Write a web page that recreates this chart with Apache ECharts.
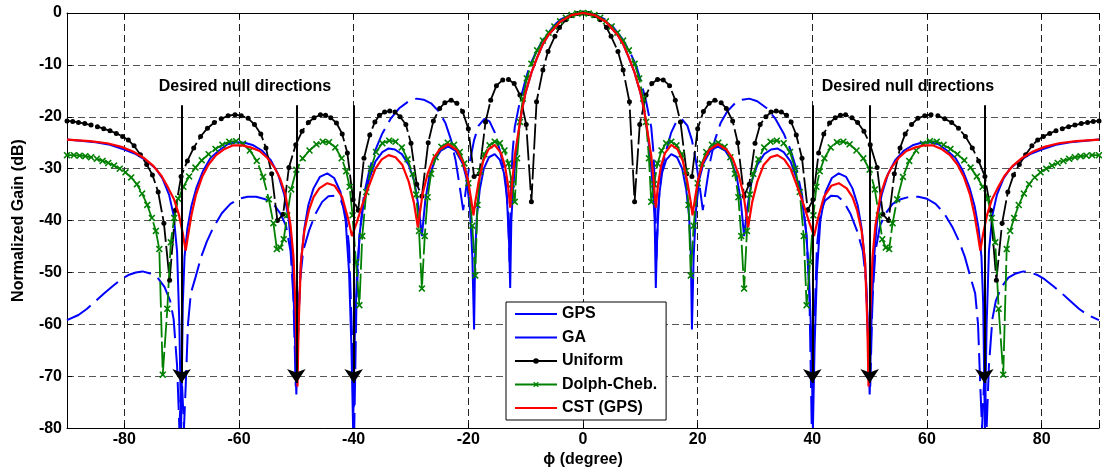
<!DOCTYPE html>
<html>
<head>
<meta charset="utf-8">
<script src="https://cdn.jsdelivr.net/npm/echarts@6/dist/echarts.min.js"></script>
<style>
html,body{margin:0;padding:0;background:#fff;}
#chart{width:1102px;height:473px;}
</style>
</head>
<body>
<div id="chart"></div>
<script>
// Pattern is symmetric about 0 deg: values read for phi >= 0, mirrored for phi < 0.
const seriesNames = ['GPS', 'GA', 'Uniform', 'Dolph-Cheb.', 'CST (GPS)'];

const gpsHalf = [[0,0],[2,-0.4],[4,-1.7],[6,-4.2],[7,-6],[8,-8.6],[9,-11.5],[10,-15.3],[10.7,-19],[11.3,-23.5],[11.8,-28.5],[12.2,-34],[12.5,-40],[12.7,-53],[12.9,-44],[13.3,-35],[13.8,-30.8],[14.5,-28.3],[15.4,-27.2],[16.4,-27.8],[17.3,-30],[18,-34],[18.5,-39],[18.8,-46],[19,-61],[19.3,-47],[19.7,-38],[20.3,-32],[21,-29],[22.2,-26.6],[23.5,-25.7],[24.8,-26.5],[25.8,-28.3],[26.8,-31.5],[27.5,-36],[28.1,-43],[28.6,-38],[29.4,-32.5],[30.4,-29.3],[31.6,-27.2],[32.8,-26.3],[33.9,-26.1],[35,-26.8],[36.2,-28.6],[37.3,-32],[38.2,-36],[38.9,-42],[39.4,-50],[39.8,-62],[40.1,-80],[40.4,-64],[40.8,-50],[41.4,-40],[42.3,-34.5],[43.4,-31.8],[44.6,-30.9],[45.9,-31.6],[47,-33.8],[47.9,-37],[48.6,-41.5],[49.2,-48],[49.6,-58],[50,-73.5],[50.3,-60],[50.7,-48],[51.3,-40],[52.1,-35],[53.2,-31],[54.5,-28.3],[56,-26.5],[57.5,-25.5],[59,-25],[60.5,-24.9],[62,-25.3],[63.5,-26.5],[65,-28],[66.3,-30.5],[67.4,-33.6],[68.3,-37.2],[69,-41.5],[69.5,-47],[69.8,-56],[70.1,-80],[70.4,-60],[70.8,-46],[71.4,-39],[72.2,-35],[73.3,-32],[74.5,-30],[76.2,-28.4],[78,-27.2],[80,-26.3],[82.5,-25.4],[85,-24.9],[90,-24.4]];

const gaHalf = [[0,0],[2,-0.3],[4,-1.3],[5.2,-2.6],[7,-5.2],[8.3,-7.8],[9.3,-10.2],[10.1,-13.2],[11,-17],[11.9,-22],[12.3,-27],[12.6,-35],[12.8,-48],[13.1,-38],[13.6,-31],[14.5,-26.5],[15.4,-23],[16.3,-20.9],[17.2,-20.4],[18.2,-21.7],[19,-24.5],[19.7,-28.5],[20.3,-33],[20.9,-38],[21.5,-33.5],[22.2,-28.5],[23,-24.5],[24,-21.2],[25.2,-18.9],[26.5,-17.4],[27.8,-16.7],[29,-16.5],[30.4,-17],[32,-18.3],[33.5,-20.3],[35,-23.2],[36.2,-26.4],[37.2,-30],[38.2,-35],[39,-43],[39.5,-55],[39.9,-80],[40.3,-62],[40.8,-45],[41.4,-38.5],[42.2,-36.2],[43.3,-35.2],[44.4,-35.3],[45.5,-36.4],[46.7,-38.8],[47.8,-42],[48.8,-45.8],[49.4,-52],[49.8,-66],[50.1,-72],[50.5,-55],[51,-46],[51.8,-41],[52.8,-38.6],[54,-36.8],[55.4,-35.9],[57,-35.4],[58.5,-35.4],[60,-35.8],[61.5,-36.8],[63,-38.6],[64.5,-41.4],[65.6,-44],[66.6,-47],[67.6,-51],[68.4,-54],[68.9,-60],[69.3,-72],[69.6,-80],[70,-70],[70.4,-80],[70.8,-68],[71.4,-59],[72,-55.5],[73,-52.8],[74.2,-51],[75.5,-50.2],[76.8,-49.8],[78,-50],[79.3,-50.5],[80.5,-51.3],[82,-52.6],[83.5,-54],[85,-55.5],[86.5,-57],[88,-58.2],[90,-59.2]];

const uniformHalf = [[0,0],[1,-0.1],[2,-0.5],[3,-1.3],[4.1,-2.8],[4.9,-4.5],[6.1,-7.4],[7,-11],[8.1,-17.1],[9,-36.4],[9.9,-21.5],[11,-15.8],[12,-13.6],[13,-12.8],[14,-12.9],[15.1,-14],[16.1,-16.8],[17,-21],[18.1,-31],[19,-31.5],[20,-22.3],[21,-19],[22,-17.4],[23,-16.8],[24.1,-17.3],[25,-18.4],[26.1,-20.8],[27,-25],[28.1,-35.3],[29,-33],[30,-25.1],[30.9,-21.5],[31.9,-20],[32.8,-19.1],[33.7,-18.9],[34.6,-19.1],[35.5,-19.7],[36.3,-21],[37.2,-23.5],[38.2,-28],[39.2,-38],[40.1,-36],[41.1,-27],[42,-23.3],[43,-21.2],[44,-20.2],[44.9,-19.7],[45.8,-19.6],[46.9,-20.2],[47.9,-21.1],[49,-22.8],[50.1,-25.4],[51.3,-29.8],[52.3,-38.8],[53.3,-40],[54.3,-31],[55.3,-26],[56.2,-23.3],[57.3,-21.5],[58.4,-20.3],[59.6,-19.8],[60.7,-19.6],[61.9,-19.8],[63.1,-20.4],[64.3,-21.1],[65.5,-22.2],[66.7,-23.8],[67.9,-26],[69,-28.5],[70.1,-31.5],[71.1,-38],[72.1,-51.5],[73.1,-40.5],[74.1,-34.5],[75.1,-31.2],[76.1,-29.2],[77.2,-27.3],[78.3,-25.6],[79.3,-24.5],[80.3,-23.8],[81.4,-23.2],[82.5,-22.7],[83.6,-22.3],[84.7,-21.9],[85.8,-21.6],[86.9,-21.3],[88,-21.1],[89,-20.9],[90,-20.8]];

const dolphHalf = [[0,0],[1,-0.1],[2,-0.4],[3,-0.9],[4,-1.6],[5,-2.6],[6,-3.8],[7,-5.3],[8,-7.2],[9,-9.8],[9.8,-12.6],[10.5,-16.5],[11,-21],[11.5,-28],[11.9,-36.4],[12.4,-33],[13,-29],[13.7,-26.5],[14.5,-25.1],[15.4,-24.8],[16.3,-25.5],[17.2,-27.2],[17.9,-30.5],[18.4,-37],[18.8,-50.6],[19.3,-41],[20,-32.8],[20.7,-29],[21.5,-26.8],[22.5,-25.4],[23.6,-25],[24.7,-25.8],[25.7,-27.8],[26.5,-31],[27.1,-35.5],[27.6,-43],[28.1,-53.1],[28.6,-42],[29.1,-35],[29.7,-31],[30.6,-28.2],[31.6,-25.9],[32.7,-24.8],[33.8,-24.6],[35,-25.1],[36.1,-26.8],[37,-30],[37.8,-34.5],[38.5,-43],[39,-56.3],[39.6,-48],[40.2,-39],[40.7,-33.5],[41.3,-30.5],[42.1,-28],[43.2,-25.9],[44.3,-24.9],[45.4,-24.8],[46.5,-25.3],[47.7,-26.5],[48.9,-28],[50,-30.2],[50.9,-34],[51.6,-39],[52.2,-43.6],[52.8,-45.2],[53.4,-45.5],[54,-40.5],[54.8,-35.9],[55.8,-31.6],[56.9,-28.5],[58.1,-26.5],[59.3,-25.2],[60.5,-24.7],[61.7,-24.8],[62.9,-25.4],[64.1,-26.2],[65.3,-27.2],[66.5,-28.4],[67.6,-29.8],[68.7,-31.5],[69.7,-33.5],[70.6,-35.8],[71.3,-39.5],[71.9,-44.2],[72.5,-57],[73.3,-69.7],[73.9,-45.5],[74.5,-42],[75.2,-39.5],[76,-37],[76.9,-34.8],[77.8,-33],[78.8,-31.7],[79.8,-30.7],[80.8,-30],[81.8,-29.4],[82.8,-28.9],[83.8,-28.5],[84.8,-28.1],[85.8,-27.8],[86.8,-27.6],[87.8,-27.5],[88.8,-27.4],[90,-27.4]];

const cstHalf = [[0,0],[2,-0.4],[4,-1.7],[6,-4.2],[7,-6],[8,-8.6],[9,-11.5],[10,-15.3],[10.7,-19],[11.3,-23.2],[11.9,-27.5],[12.3,-32],[12.7,-37.5],[13.1,-33],[13.6,-29.5],[14.3,-27],[15.4,-25.4],[16.5,-26.3],[17.4,-28.5],[18.2,-32.5],[18.8,-36.5],[19.1,-39],[19.5,-36],[20.1,-32],[20.9,-28.8],[22,-26.4],[23.5,-25.3],[25,-26.3],[26.1,-28],[27.1,-31],[28,-35],[28.8,-41.3],[29.5,-36.5],[30.4,-32.5],[31.5,-29.3],[32.7,-27.8],[33.9,-27.4],[35.1,-28.2],[36.2,-30],[37.4,-33.5],[38.5,-37],[39.5,-40.5],[40.3,-43],[41,-39.5],[42,-35.5],[43.3,-33.3],[44.6,-32.8],[46,-33.8],[47,-35.5],[47.8,-38],[48.6,-42],[49.2,-48],[49.6,-60],[49.8,-72],[50.1,-58],[50.5,-47],[51,-41],[51.9,-35],[52.8,-32],[53.8,-29.8],[55,-28],[56.4,-26.6],[58,-25.9],[59.5,-25.5],[61,-25.5],[62.5,-26.2],[64,-27.4],[65.3,-29.2],[66.4,-31.5],[67.5,-35],[68.3,-39],[68.9,-43],[69.3,-45.8],[69.8,-42.5],[70.5,-38.8],[71.3,-36],[72.3,-33.8],[73.5,-31.4],[75,-29.4],[76.5,-28],[78.5,-26.7],[80.5,-25.8],[83,-25.1],[86,-24.7],[90,-24.4]];

const nullDirections = [-70, -50, -40, 40, 50, 70];
const arrowTopDb = -17.8;
const arrowEndDb = -71.3;
const annotationText = 'Desired null directions';

function mirror(half) {
  const left = half.filter(p => p[0] > 0).map(p => [-p[0], p[1]]).reverse();
  return left.concat(half);
}

const FONT = '"Liberation Sans", Arial, Helvetica, sans-serif';
const xMarker = 'path://M0,1.6L1.6,0L5,3.4L8.4,0L10,1.6L6.6,5L10,8.4L8.4,10L5,6.6L1.6,10L0,8.4L3.4,5Z';
const noSymbol = {opacity: 0, color: 'rgba(0,0,0,0)', borderWidth: 0};

const chart = echarts.init(document.getElementById('chart'), null, {renderer: 'canvas'});

const option = {
  animation: false,
  backgroundColor: '#fff',
  grid: {left: 67, right: 0, top: 13, bottom: 41, containLabel: false},
  legend: {
    data: [
      {name: 'GPS', itemStyle: noSymbol},
      {name: 'GA', itemStyle: noSymbol, lineStyle: {type: 'solid'}},
      {name: 'Uniform', lineStyle: {type: 'solid'}},
      {name: 'Dolph-Cheb.', lineStyle: {type: 'solid'}},
      {name: 'CST (GPS)', itemStyle: noSymbol}
    ],
    orient: 'vertical',
    left: 506, top: 302,
    padding: [4, 9, 4, 8],
    itemGap: 7.5,
    itemWidth: 42,
    itemHeight: 7,
    backgroundColor: '#fff',
    borderColor: '#000',
    borderWidth: 1,
    z: 10,
    textStyle: {fontFamily: FONT, fontSize: 16, fontWeight: 'bold', color: '#000', lineHeight: 16}
  },
  xAxis: [{
    type: 'value', min: -90, max: 90, splitNumber: 9,
    position: 'bottom',
    axisLine: {show: true, onZero: false, lineStyle: {color: '#000', width: 1}},
    axisTick: {show: true, inside: true, length: 5, lineStyle: {color: '#000'}},
    axisLabel: {
      fontFamily: FONT, fontSize: 16, fontWeight: 'bold', color: '#000', margin: 3,
      formatter: v => (Math.abs(v) === 90 ? '' : String(v))
    },
    splitLine: {show: true, lineStyle: {color: '#222', width: 1, type: [7, 4]}},
    name: 'ϕ (degree)', nameLocation: 'middle', nameGap: 23,
    nameTextStyle: {fontFamily: FONT, fontSize: 16, fontWeight: 'bold', color: '#000'}
  }, {
    type: 'value', min: -90, max: 90, splitNumber: 9,
    position: 'top',
    axisLine: {show: true, onZero: false, lineStyle: {color: '#000', width: 1}},
    axisTick: {show: true, inside: true, length: 5, lineStyle: {color: '#000'}},
    axisLabel: {show: false},
    splitLine: {show: false}
  }],
  yAxis: {
    type: 'value', min: -80, max: 0, interval: 10,
    axisLine: {show: true, onZero: false, lineStyle: {color: '#000', width: 1}},
    axisTick: {show: true, inside: true, length: 5, lineStyle: {color: '#000'}},
    axisLabel: {fontFamily: FONT, fontSize: 16, fontWeight: 'bold', color: '#000', margin: 5},
    splitLine: {show: true, lineStyle: {color: '#555', width: 1, type: [7, 4]}},
    name: 'Normalized Gain (dB)', nameLocation: 'middle', nameGap: 40, nameRotate: 90,
    nameTextStyle: {fontFamily: FONT, fontSize: 16, fontWeight: 'bold', color: '#000'}
  },
  graphic: [
    {type: 'text', x: 245, y: 87, z: 20, style: {text: annotationText, font: 'bold 16px ' + FONT, fill: '#000', align: 'center', verticalAlign: 'middle'}},
    {type: 'text', x: 908, y: 87, z: 20, style: {text: annotationText, font: 'bold 16px ' + FONT, fill: '#000', align: 'center', verticalAlign: 'middle'}}
  ],
  series: [
    {
      name: 'GPS', type: 'line', data: mirror(gpsHalf), symbol: 'none',
      lineStyle: {color: '#0000ff', width: 2}, itemStyle: {color: '#0000ff'}, z: 2
    },
    {
      name: 'GA', type: 'line', data: mirror(gaHalf), symbol: 'none',
      lineStyle: {color: '#0000ff', width: 2, type: [28, 8]}, itemStyle: {color: '#0000ff'}, z: 2
    },
    {
      name: 'Uniform', type: 'line', data: mirror(uniformHalf),
      symbol: 'circle', symbolSize: 5, showAllSymbol: true,
      lineStyle: {color: '#000', width: 1.8, type: [26, 4]}, itemStyle: {color: '#000'}, z: 3
    },
    {
      name: 'Dolph-Cheb.', type: 'line', data: mirror(dolphHalf),
      symbol: xMarker, symbolSize: 7, showAllSymbol: true,
      lineStyle: {color: '#008000', width: 1.8, type: [26, 4]}, itemStyle: {color: '#008000'}, z: 3
    },
    {
      name: 'CST (GPS)', type: 'line', data: mirror(cstHalf), symbol: 'none',
      lineStyle: {color: '#ff0000', width: 2.2}, itemStyle: {color: '#ff0000'}, z: 4
    },
    {
      name: 'nulls', type: 'line', data: [], symbol: 'none', z: 5,
      markLine: {
        silent: true, animation: false,
        symbol: ['none', 'arrow'], symbolSize: 14,
        label: {show: false},
        lineStyle: {color: '#000', width: 2, type: 'solid'},
        itemStyle: {color: '#000'},
        emphasis: {disabled: true},
        data: nullDirections.map(d => [{coord: [d, arrowTopDb]}, {coord: [d, arrowEndDb]}])
      }
    }
  ]
};
chart.setOption(option);
</script>
</body>
</html>
